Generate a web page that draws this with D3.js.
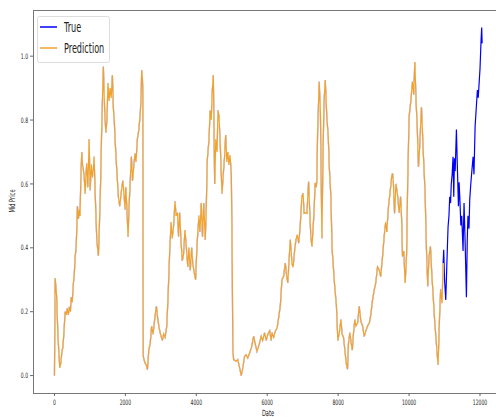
<!DOCTYPE html>
<html>
<head>
<meta charset="utf-8">
<script src="https://cdn.jsdelivr.net/npm/d3@7"></script>
<style>
  body { margin: 0; background: #fff; }
  text { font-family: "DejaVu Sans", sans-serif; fill: #222; }
</style>
</head>
<body>
<div id="chart"></div>
<script>
// row index of each reading on the Prediction line (overlaps True up to here)
const predDates = [
  0,20,60,100,150,180,210,240,270,300,
  330,360,390,420,450,470,500,535,560,583,
  610,630,648,676,700,720,745,770,790,810,
  840,865,890,912,940,960,978,995,1006,1040,
  1070,1100,1118,1140,1170,1194,1215,1240,1270,1300,
  1330,1360,1380,1400,1420,1450,1480,1510,1540,1570,
  1600,1634,1660,1690,1710,1740,1770,1803,1840,1880,
  1926,1960,1992,2010,2040,2076,2100,2133,2170,2200,
  2240,2273,2300,2338,2380,2420,2445,2460,2480,2490,
  2505,2550,2600,2622,2660,2700,2740,2780,2830,2875,
  2910,2950,2990,3043,3080,3120,3166,3200,3250,3290,
  3320,3360,3400,3430,3470,3500,3530,3570,3605,3640,
  3680,3720,3760,3790,3830,3870,3900,3930,3980,4020,
  4075,4100,4120,4140,4175,4210,4253,4280,4310,4358,
  4390,4420,4450,4480,4500,4518,4550,4585,4612,4640,
  4670,4700,4725,4760,4800,4828,4860,4890,4920,4950,
  4987,5010,5030,5053,5120,5170,5220,5268,5320,5360,
  5400,5450,5500,5560,5617,5660,5710,5780,5830,5870,
  5925,5970,6020,6070,6110,6133,6180,6230,6280,6320,
  6370,6415,6460,6510,6540,6580,6610,6650,6700,6730,
  6780,6810,6850,6890,6930,6978,7010,7040,7080,7120,
  7166,7200,7230,7260,7320,7350,7380,7400,7420,7466,
  7500,7542,7570,7600,7636,7680,7720,7750,7795,7830,
  7860,7888,7920,7950,7992,8040,8080,8110,8150,8190,
  8226,8264,8290,8330,8370,8400,8430,8470,8500,8550,
  8594,8640,8690,8735,8780,8830,8880,8920,8970,9020,
  9060,9110,9160,9200,9250,9297,9340,9370,9420,9470,
  9510,9533,9560,9590,9630,9680,9720,9760,9790,9815,
  9850,9890,9930,9960,10000,10050,10096,10130,10162,10200,
  10230,10265,10300,10350,10400,10452,10490,10527,10560,10602,
  10640,10680,10720,10770,10817,10860,10890,10930,10960
];
const predMid = [
  0.00,0.305,0.25,0.12,0.025,0.04,0.075,0.09,0.14,0.20,
  0.19,0.21,0.19,0.215,0.20,0.245,0.23,0.29,0.32,0.37,
  0.40,0.46,0.53,0.49,0.52,0.50,0.62,0.70,0.66,0.65,
  0.62,0.57,0.63,0.665,0.59,0.66,0.74,0.64,0.58,0.66,
  0.62,0.65,0.685,0.60,0.50,0.425,0.40,0.375,0.48,0.60,
  0.76,0.89,0.967,0.88,0.82,0.76,0.80,0.915,0.86,0.90,
  0.87,0.94,0.84,0.79,0.74,0.675,0.62,0.56,0.53,0.57,
  0.61,0.57,0.52,0.59,0.53,0.435,0.52,0.60,0.685,0.61,
  0.66,0.695,0.67,0.74,0.77,0.82,0.88,0.956,0.93,0.90,
  0.06,0.04,0.03,0.019,0.08,0.10,0.154,0.13,0.18,0.217,
  0.18,0.15,0.13,0.11,0.13,0.12,0.154,0.237,0.39,0.48,
  0.43,0.47,0.545,0.50,0.51,0.435,0.51,0.42,0.36,0.38,
  0.456,0.40,0.34,0.40,0.33,0.40,0.35,0.33,0.30,0.41,
  0.50,0.45,0.49,0.54,0.435,0.54,0.425,0.52,0.675,0.74,
  0.83,0.80,0.89,0.94,0.77,0.60,0.74,0.70,0.83,0.81,
  0.74,0.645,0.57,0.63,0.69,0.753,0.67,0.70,0.66,0.69,
  0.634,0.40,0.08,0.05,0.045,0.05,0.025,0.00,0.03,0.06,
  0.065,0.055,0.07,0.09,0.123,0.10,0.076,0.10,0.123,0.11,
  0.134,0.11,0.13,0.14,0.11,0.134,0.12,0.14,0.15,0.18,
  0.22,0.30,0.31,0.352,0.32,0.29,0.35,0.425,0.35,0.34,
  0.40,0.425,0.44,0.415,0.47,0.56,0.57,0.508,0.51,0.508,
  0.607,0.51,0.435,0.404,0.51,0.603,0.59,0.61,0.758,0.92,
  0.82,0.43,0.67,0.85,0.925,0.81,0.75,0.654,0.56,0.394,
  0.35,0.30,0.258,0.22,0.11,0.14,0.175,0.13,0.12,0.08,
  0.04,0.02,0.10,0.134,0.10,0.08,0.13,0.175,0.155,0.165,
  0.217,0.17,0.155,0.123,0.14,0.155,0.165,0.19,0.237,0.27,
  0.29,0.34,0.33,0.31,0.37,0.435,0.48,0.45,0.53,0.58,
  0.623,0.633,0.60,0.508,0.60,0.56,0.51,0.56,0.49,0.373,
  0.39,0.29,0.38,0.60,0.81,0.86,0.92,0.88,0.982,0.85,
  0.78,0.654,0.72,0.84,0.70,0.57,0.394,0.28,0.37,0.404,
  0.32,0.248,0.175,0.10,0.034,0.185,0.27,0.227,0.352
];
// the part of the True line that is not covered by the prediction
const tailDates = [
  10977,11000,11034,11060,11080,11100,11125,11146,11170,11190,
  11215,11240,11260,11280,11300,11335,11360,11392,11410,11430,
  11460,11485,11522,11550,11580,11617,11640,11660,11690,11710,
  11740,11770,11805,11830,11862,11890,11927,11950,11975,12000,
  12030,12048,12060
];
const tailMid = [
  0.394,0.30,0.237,0.33,0.40,0.467,0.50,0.56,0.54,0.60,
  0.63,0.685,0.56,0.68,0.64,0.77,0.66,0.53,0.605,0.56,
  0.47,0.50,0.39,0.54,0.42,0.245,0.42,0.50,0.46,0.55,
  0.60,0.64,0.685,0.63,0.78,0.83,0.894,0.87,0.915,0.96,
  1.05,1.09,1.04
];
const xTicks = [0, 2000, 4000, 6000, 8000, 10000, 12000];
const yTicks = [0.0, 0.2, 0.4, 0.6, 0.8, 1.0];
const seriesNames = ["True", "Prediction"];
const seriesColors = ["#0000ff", "#f0a22e"];

const W = 496, H = 417;
const plot = { left: 33, top: 10, right: 505, bottom: 393 };
const squeeze = 0.6; // the picture is narrowed, text with it

const predData = predDates.map((d, i) => ({ date: d, mid: predMid[i] }));
const trueData = predData.concat(tailDates.map((d, i) => ({ date: d, mid: tailMid[i] })));

const x = d3.scaleLinear().domain([-605, 12705]).range([plot.left, plot.right]);
const y = d3.scaleLinear().domain([-0.0545, 1.1445]).range([plot.bottom, plot.top]);

const svg = d3.select("#chart").append("svg")
    .attr("width", W)
    .attr("height", H)
    .style("display", "block");
svg.append("rect").attr("width", W).attr("height", H).attr("fill", "#fff");

function label(px, py, txt, size, anchor, rot) {
    return svg.append("text")
        .attr("transform", `translate(${px},${py}) rotate(${rot || 0}) scale(${squeeze},1)`)
        .attr("text-anchor", anchor)
        .style("font-size", size + "px")
        .text(txt);
}

// lines: True first, Prediction drawn over it
const line = d3.line().x(d => x(d.date)).y(d => y(d.mid));
svg.append("path").datum(trueData)
    .attr("d", line).attr("fill", "none")
    .attr("stroke", seriesColors[0]).attr("stroke-width", 1.2);
// hide the True line where the prediction sits on top of it
svg.append("path").datum(predData)
    .attr("d", line).attr("fill", "none")
    .attr("stroke", "#fff").attr("stroke-width", 1.6);
svg.append("path").datum(predData)
    .attr("d", line).attr("fill", "none")
    .attr("stroke", seriesColors[1]).attr("stroke-width", 1.2);

// spines
svg.append("line").attr("x1", plot.left).attr("x2", W).attr("y1", plot.top + 0.5).attr("y2", plot.top + 0.5)
    .attr("stroke", "#777");
svg.append("line").attr("x1", plot.left).attr("x2", W).attr("y1", plot.bottom + 0.5).attr("y2", plot.bottom + 0.5)
    .attr("stroke", "#777");
svg.append("line").attr("x1", plot.left + 0.5).attr("x2", plot.left + 0.5).attr("y1", plot.top).attr("y2", plot.bottom)
    .attr("stroke", "#777");

// y ticks
yTicks.forEach(t => {
    svg.append("line").attr("x1", plot.left - 3).attr("x2", plot.left)
        .attr("y1", y(t)).attr("y2", y(t)).attr("stroke", "#666");
    label(plot.left - 5, y(t) + 2.6, d3.format(".1f")(t), 7.5, "end");
});
// x ticks
xTicks.forEach(t => {
    svg.append("line").attr("x1", x(t)).attr("x2", x(t))
        .attr("y1", plot.bottom).attr("y2", plot.bottom + 3).attr("stroke", "#666");
    label(x(t), plot.bottom + 12, String(t), 7.5, "middle");
});

label(268, 415.5, "Date", 8.5, "middle");
label(14.5, 201, "Mid Price", 8.5, "middle", -90);

// legend
const lg = svg.append("g");
lg.append("rect").attr("x", 37.5).attr("y", 16.5).attr("width", 72).attr("height", 46)
    .attr("rx", 2).attr("fill", "#fff").attr("stroke", "#ddd");
seriesNames.forEach((name, i) => {
    const ly = 27 + i * 21;
    lg.append("line").attr("x1", 40).attr("x2", 57).attr("y1", ly).attr("y2", ly)
        .attr("stroke", seriesColors[i]).attr("stroke-width", 1.5);
    label(64, ly + 4.8, name, 13.5, "start");
});
</script>
</body>
</html>
